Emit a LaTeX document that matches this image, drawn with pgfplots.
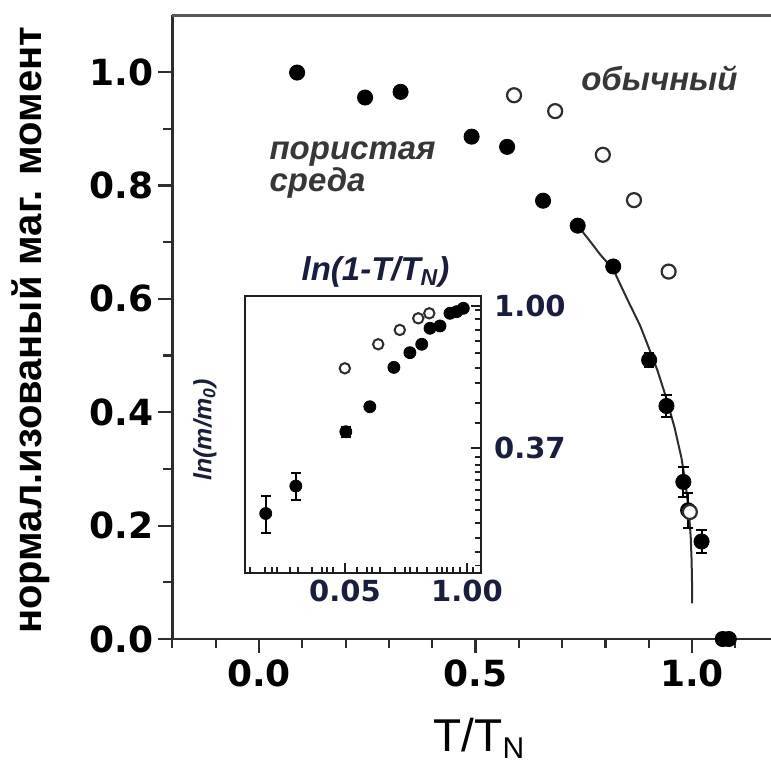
\documentclass[border=0pt]{standalone}
\usepackage{fontspec}
\setmainfont{Liberation Sans}
\newfontfamily\djv{DejaVu Sans}
\usepackage{pgfplots}
\pgfplotsset{compat=1.18}
\definecolor{axisgray}{RGB}{45,45,45}
\definecolor{labnavy}{RGB}{25,30,62}
\definecolor{annot}{RGB}{55,55,55}
\begin{document}
\begin{tikzpicture}
\begin{axis}[
  at={(0,0)}, anchor=south west,
  scale only axis, width=299.3pt, height=311.85pt,
  xmin=-0.2, xmax=1.1824, ymin=0, ymax=1.1,
  clip=false,
  axis x line*=bottom, axis y line*=left,
  axis line style={line width=1.3pt, color=axisgray, -},
  tick style={line width=1.1pt, color=axisgray},
  tick align=outside,
  major tick length=7pt, minor tick length=4.5pt,
  xtick={0,0.5,1}, xticklabels={0.0,0.5,1.0},
  minor xtick={-0.2,-0.1,0.1,0.2,0.3,0.4,0.6,0.7,0.8,0.9,1.1},
  ytick={0,0.2,0.4,0.6,0.8,1.0}, yticklabels={0.0,0.2,0.4,0.6,0.8,1.0},
  minor ytick={0.1,0.3,0.5,0.7,0.9},
  ticklabel style={font=\djv\fontsize{18}{20}\selectfont\bfseries, text=black},
  yticklabel style={xshift=1pt},
  xlabel={T/T\raisebox{-0.15em}{\fontsize{15}{15}\selectfont N}},
  xlabel style={font=\fontsize{23}{26}\selectfont, at={(axis description cs:0.512,-0.180)}, anchor=base},
  ylabel={нормал.изованый маг. момент},
  ylabel style={font=\fontsize{20}{24}\selectfont\bfseries, at={(axis description cs:-0.236,0.495)}, anchor=center},
]
% fit curve
\addplot[line width=1pt, color=axisgray, no marks] coordinates {
 (0.736,0.729) (0.76,0.706) (0.788,0.678) (0.818,0.652) (0.85,0.600) (0.88,0.553)
 (0.901,0.512) (0.92,0.474) (0.941,0.424) (0.96,0.372) (0.976,0.318) (0.986,0.268)
 (0.993,0.222) (0.997,0.18) (0.999,0.14) (1.0,0.10) (1.0,0.063)
};
% porous medium (filled)
\addplot[only marks, mark=*, mark size=3.8pt, color=black,
  error bars/.cd, y dir=both, y explicit,
  error bar style={line width=1pt, color=black},
  error mark options={rotate=90, mark size=2.6pt, line width=1pt, color=black}]
 coordinates {
 (0.088,0.999) +- (0,0)
 (0.245,0.955) +- (0,0)
 (0.327,0.965) +- (0,0)
 (0.491,0.886) +- (0,0)
 (0.573,0.868) +- (0,0)
 (0.656,0.773) +- (0,0)
 (0.736,0.729) +- (0,0)
 (0.818,0.657) +- (0,0)
 (0.901,0.492) +- (0,0.012)
 (0.941,0.411) +- (0,0.02)
 (0.980,0.277) +- (0,0.026)
 (0.991,0.227) +- (0,0.031)
 (1.022,0.172) +- (0,0.021)
 (1.071,0.0) +- (0,0)
 (1.085,0.0) +- (0,0)
};
% bulk (open)
\addplot[only marks, mark=*, mark size=3.5pt, mark options={fill=white, draw=axisgray, line width=1.1pt}]
 coordinates {
 (0.589,0.959) (0.684,0.931) (0.794,0.854) (0.866,0.774) (0.946,0.648) (0.995,0.224)
};
\draw[line width=1.3pt, color=black!65] (rel axis cs:0,1) -- (rel axis cs:1,1);
\node[anchor=base west, font=\fontsize{16.5}{16}\selectfont\bfseries\itshape, text=annot] at (axis cs:0.728,0.968) {обычный};
\node[anchor=base west, font=\fontsize{16.5}{16}\selectfont\bfseries\itshape, text=annot] at (axis cs:0.008,0.845) {пористая};
\node[anchor=base west, font=\fontsize{16.5}{16}\selectfont\bfseries\itshape, text=annot] at (axis cs:0.008,0.789) {среда};
\end{axis}

\begin{axis}[
  at={(36.3pt,33pt)}, anchor=south west,
  scale only axis, width=118pt, height=138.5pt,
  xmode=log, ymode=log,
  xmin=0.00429, xmax=1.41, ymin=0.1526, ymax=1.073,
  clip=false,
  axis background/.style={fill=white},
  axis line style={line width=1.3pt, color=black!88},
  tick style={line width=0.9pt, color=black!88},
  tick align=inside,
  major tick length=5pt, minor tick length=3pt,
  xtick pos=left, ytick pos=right, yticklabel pos=right,
  xtick={0.05,1}, xticklabels={0.05,1.00},
  minor xtick={0.00483,0.00696,0.00827,0.00936,0.01288,0.01567,0.02213,0.02828,0.03198,0.03707,
    0.0669,0.0855,0.0967,0.1178,0.1703,0.2177,0.2462,0.2923,0.3738,0.478,0.5406,0.6114,0.709,0.842,1.159},
  ytick={0.3679,1}, yticklabels={0.37,1.00},
  minor ytick={0.972,0.913,0.845,0.782,0.718,0.646,0.581,0.505,0.439,
    0.345,0.326,0.311,0.294,0.274,0.255,0.238,0.217,0.195,0.177,0.161},
  ticklabel style={font=\djv\fontsize{14.5}{17}\selectfont\bfseries, text=labnavy},
  yticklabel style={xshift=3pt},
]
\addplot[only marks, mark=*, mark size=3pt, color=black,
  error bars/.cd, y dir=both, y explicit,
  error bar style={line width=1pt, color=black},
  error mark options={rotate=90, mark size=2.4pt, line width=1pt, color=black}]
 coordinates {
 (0.00714,0.232) +- (0,0.030)
 (0.01494,0.2815) +- (0,0.027)
 (0.0510,0.4126) +- (0,0.015)
 (0.0920,0.492) +- (0,0)
 (0.166,0.649) +- (0,0)
 (0.246,0.720) +- (0,0)
 (0.329,0.764) +- (0,0)
 (0.403,0.855) +- (0,0)
 (0.515,0.869) +- (0,0)
 (0.658,0.950) +- (0,0)
 (0.776,0.961) +- (0,0)
 (0.913,0.984) +- (0,0)
};
\addplot[only marks, mark=*, mark size=2.6pt, mark options={fill=white, draw=axisgray, line width=1pt}]
 coordinates {
 (0.0498,0.645) (0.113,0.764) (0.192,0.845) (0.302,0.917) (0.396,0.950)
};
\node[anchor=base, font=\fontsize{16.5}{18}\selectfont\bfseries\itshape, text=labnavy]
  at ([yshift=8pt]rel axis cs:0.553,1) {ln(1-T/T\textsubscript{N})};
\node[rotate=90, anchor=center, font=\fontsize{12.5}{14}\selectfont\bfseries\itshape, text=labnavy]
  at ([xshift=-20pt]rel axis cs:0,0.516) {ln(m/m\textsubscript{0})};
\end{axis}
\pgfresetboundingbox
\path[use as bounding box] (-86.2pt,-64pt) rectangle (299.3pt,319.5pt);
\end{tikzpicture}
\end{document}
